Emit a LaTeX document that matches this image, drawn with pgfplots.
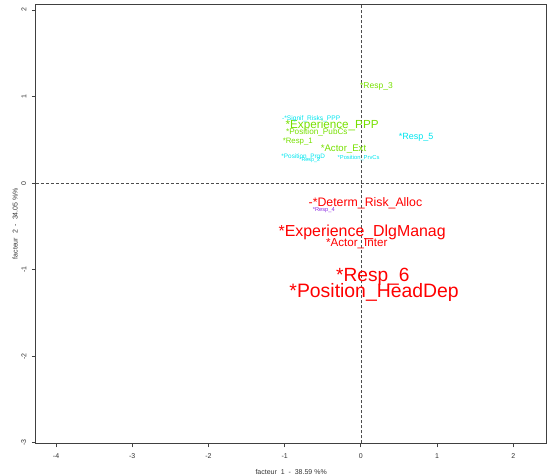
\documentclass[border=0pt]{standalone}
\usepackage{fontspec}
\setmainfont{Liberation Sans}
\usepackage{pgfplots}
\pgfplotsset{compat=1.18}
\definecolor{gr}{HTML}{76E000}
\definecolor{cy}{HTML}{00E5EE}
\definecolor{rd}{HTML}{FF0000}
\definecolor{pu}{HTML}{8A2BE2}
\pgfplotsset{lab/.style 2 args={draw=none, mark=none, forget plot, nodes near coords, point meta=explicit symbolic,
  every node near coord/.append style={anchor=center, inner sep=0pt, text=#1, font=\fontsize{#2}{#2}\selectfont}}}
\begin{document}
\begin{tikzpicture}
\path[use as bounding box] (-35.8pt,-32.7pt) rectangle (514.2pt,443.3pt);
\begin{axis}[at={(0,0)}, anchor=south west, scale only axis, width=510.7pt, height=439.3pt,
  xmin=-4.266, xmax=2.436, ymin=-3.005, ymax=2.07,
  axis line style={draw=black!75, line width=0.8pt},
  xtick={-4,-3,-2,-1,0,1,2}, xticklabels={-4,-3,-2,-1,0,1,2},
  ytick={-3,-2,-1,0,1,2}, yticklabels={-3,-2,-1,0,1,2},
  tick align=outside, xtick pos=left, ytick pos=left, major tick length=4pt,
  tick style={black!75, line width=0.8pt},
  ticklabel style={font=\fontsize{7}{8}\selectfont, text=black!80},
  xticklabel shift=3pt, yticklabel shift=2pt,
  yticklabel style={rotate=90, anchor=south},
  xlabel={facteur\ \ 1\ \ -\ \ 38.59 \%\%}, ylabel={facteur\ \ 2\ \ -\ \ 34.05 \%\%},
  label style={font=\fontsize{7}{8}\selectfont, text=black!80},
  xlabel style={at={(axis description cs:0.5,-0.0649)}, anchor=center},
  ylabel style={at={(axis description cs:-0.0407,0.5)}, anchor=center},
  clip=false]
\addplot[black!70, dash pattern=on 3pt off 2pt, line width=0.6pt, forget plot] coordinates {(0,-3.005) (0,2.07)};
\addplot[black!70, dash pattern=on 3pt off 2pt, line width=0.6pt, forget plot] coordinates {(-4.266,0) (2.436,0)};
% green
\addplot[lab={gr}{8.5}] coordinates {(0.205,1.12)[*Resp\_3]};
\addplot[lab={gr}{11.7}] coordinates {(-0.377,0.669)[*Experience\_PPP]};
\addplot[lab={gr}{8.2}] coordinates {(-0.578,0.584)[*Position\_PubCs]};
\addplot[lab={gr}{7.8}] coordinates {(-0.828,0.485)[*Resp\_1]};
\addplot[lab={gr}{9.6}] coordinates {(-0.228,0.396)[*Actor\_Ext]};
% cyan
\addplot[lab={cy}{6.6}] coordinates {(-0.652,0.745)[-*Signif\_Risks\_PPP]};
\addplot[lab={cy}{9.0}] coordinates {(0.725,0.531)[*Resp\_5]};
\addplot[lab={cy}{6.4}] coordinates {(-0.757,0.307)[*Position\_PrgD]};
\addplot[lab={cy}{5.4}] coordinates {(-0.67,0.265)[*Resp\_2]};
\addplot[lab={cy}{5.8}] coordinates {(-0.03,0.295)[*Position\_PrvCs]};
% purple
\addplot[lab={pu}{5.7}] coordinates {(-0.487,-0.316)[*Resp\_4]};
% red
\addplot[lab={rd}{12.3}] coordinates {(0.06,-0.231)[-*Determ\_Risk\_Alloc]};
\addplot[lab={rd}{15.9}] coordinates {(0.017,-0.57)[*Experience\_DlgManag]};
\addplot[lab={rd}{11.6}] coordinates {(-0.054,-0.704)[*Actor\_Inter]};
\addplot[lab={rd}{19.1}] coordinates {(0.157,-1.085)[*Resp\_6]};
\addplot[lab={rd}{19.4}] coordinates {(0.174,-1.258)[*Position\_HeadDep]};
\end{axis}
\end{tikzpicture}
\end{document}
